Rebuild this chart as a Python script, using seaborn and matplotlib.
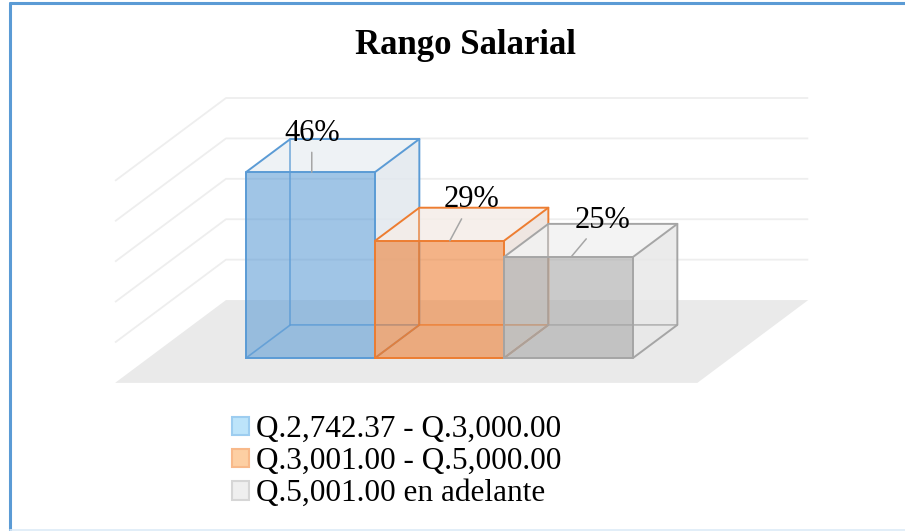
import matplotlib
matplotlib.use("Agg")
import matplotlib.pyplot as plt
from matplotlib.patches import Polygon, Patch
from matplotlib.lines import Line2D
import seaborn as sns

categories = ["Q.2,742.37 - Q.3,000.00", "Q.3,001.00 - Q.5,000.00", "Q.5,001.00 en adelante"]
values = [46, 29, 25]
label_texts = ["46%", "29%", "25%"]
grid_values = [10, 20, 30, 40, 50]

edge_colors = ["#5B9BD5", "#ED7D31", "#A5A5A5"]
top_colors = ["#ECF0F4", "#F5EDE8", "#F2F2F2"]
side_colors = ["#E2E8EE", "#EDE2DC", "#E8E8E8"]
handle_fill = ["#BDE4FA", "#FDCFA3", "#EFEFEF"]
handle_edge = ["#9DCDF0", "#F8B98A", "#D6D6D6"]

# pseudo 3d geometry (data units: x = category, y = percent)
DX, DY = 0.86, 20.5      # full floor depth vector
D_FRONT, D_BACK = 0.30, 0.70
FLOOR_PAD = 0.757
label_offsets = [(0, 39), (22, 41), (31, 37)]   # pixels
leader_dx = [0.01, 0.08, 0.02]

sns.set_style("white")
plt.rcParams["font.family"] = ["Liberation Serif", "DejaVu Serif"]
plt.rcParams["text.color"] = "black"

fig = plt.figure(figsize=(9.05, 5.31), dpi=100)
ax = fig.add_axes([0, 0, 1, 1])

sns.barplot(x=categories, y=values, hue=categories, palette=edge_colors,
            saturation=1, width=1, legend=False, ax=ax, linewidth=0)
bars = list(ax.patches)

ox, oy = (D_BACK - D_FRONT) * DX, (D_BACK - D_FRONT) * DY
fx0, fy0 = -D_FRONT * DX, -D_FRONT * DY

# floor
xl, xr = -0.5 - FLOOR_PAD, len(values) - 0.5 + FLOOR_PAD
ax.add_patch(Polygon([(xl + fx0, fy0), (xr + fx0, fy0), (xr + fx0 + DX, fy0 + DY),
                      (xl + fx0 + DX, fy0 + DY)], closed=True,
                     facecolor="#EAEAEA", edgecolor="none", zorder=0))

# wall gridlines
for g in grid_values:
    ax.plot([xl + fx0, xl + fx0 + DX, xr + fx0 + DX],
            [g + fy0, g + fy0 + DY, g + fy0 + DY],
            color="#EEEEEE", lw=1.3, zorder=0.5, solid_capstyle="butt")

# cubes
for i, bar in enumerate(bars):
    x0 = bar.get_x()
    x1 = x0 + bar.get_width()
    h = bar.get_height()
    z = 2 + i
    ec = edge_colors[i]
    bar.set_alpha(0.58)
    bar.set_zorder(z + 0.5)
    ax.add_patch(Polygon([(x0, h), (x1, h), (x1 + ox, h + oy), (x0 + ox, h + oy)],
                         facecolor=top_colors[i], alpha=0.85, edgecolor="none", zorder=z))
    ax.add_patch(Polygon([(x1, 0), (x1 + ox, oy), (x1 + ox, h + oy), (x1, h)],
                         facecolor=side_colors[i], alpha=0.85, edgecolor="none", zorder=z))
    # hidden edges
    ax.plot([x0, x0 + ox, x1 + ox], [0, oy, oy], color=ec, lw=1.2, alpha=0.8, zorder=z + 0.2)
    ax.plot([x0 + ox, x0 + ox], [oy, h + oy], color=ec, lw=1.2, alpha=0.8, zorder=z + 0.2)
    # visible edges
    ax.plot([x0, x1, x1, x0, x0], [0, 0, h, h, 0], color=ec, lw=1.4, zorder=z + 0.7)
    ax.plot([x0, x0 + ox, x1 + ox, x1 + ox, x1], [h, h + oy, h + oy, oy, 0],
            color=ec, lw=1.4, zorder=z + 0.7)
    ax.plot([x1, x1 + ox], [h, h + oy], color=ec, lw=1.4, zorder=z + 0.7)

    ax.annotate(label_texts[i], xy=(x0 + 0.5 + leader_dx[i], h),
                xytext=label_offsets[i], textcoords="offset pixels",
                ha="center", va="center", fontsize=22, color="black",
                arrowprops=dict(arrowstyle="-", color="#A6A6A6", lw=1.1,
                                shrinkA=1, shrinkB=0),
                zorder=10)

ax.set_xlim(-2.407, 4.609)
ax.set_ylim(-42.8, 88.6)
ax.axis("off")

fig.text(0.514, 1 - 45 / 531, "Rango Salarial", ha="center", va="center",
         fontsize=25, fontweight="bold", color="black")

handles = [Patch(facecolor=handle_fill[i], edgecolor=handle_edge[i], linewidth=1.5)
           for i in range(len(categories))]
leg = fig.legend(handles, categories, loc="upper left",
                 bbox_to_anchor=(232 / 905, 1 - 415 / 531), frameon=False,
                 fontsize=22.5, handlelength=0.55, handleheight=0.55,
                 handletextpad=0.22, labelspacing=0.1, borderpad=0, borderaxespad=0)
for t in leg.get_texts():
    t.set_color("black")

# outer border
fig.add_artist(Line2D([9.5 / 905, 1], [1 - 3 / 531, 1 - 3 / 531], color="#5B9BD5",
                      lw=2.2, transform=fig.transFigure))
fig.add_artist(Line2D([9.5 / 905, 9.5 / 905], [0, 1 - 3 / 531], color="#5B9BD5",
                      lw=2.2, transform=fig.transFigure))
fig.add_artist(Line2D([9.5 / 905, 1], [1 / 531, 1 / 531], color="#DDEBF7",
                      lw=1.2, transform=fig.transFigure))

fig.savefig("out.png", dpi=100)
